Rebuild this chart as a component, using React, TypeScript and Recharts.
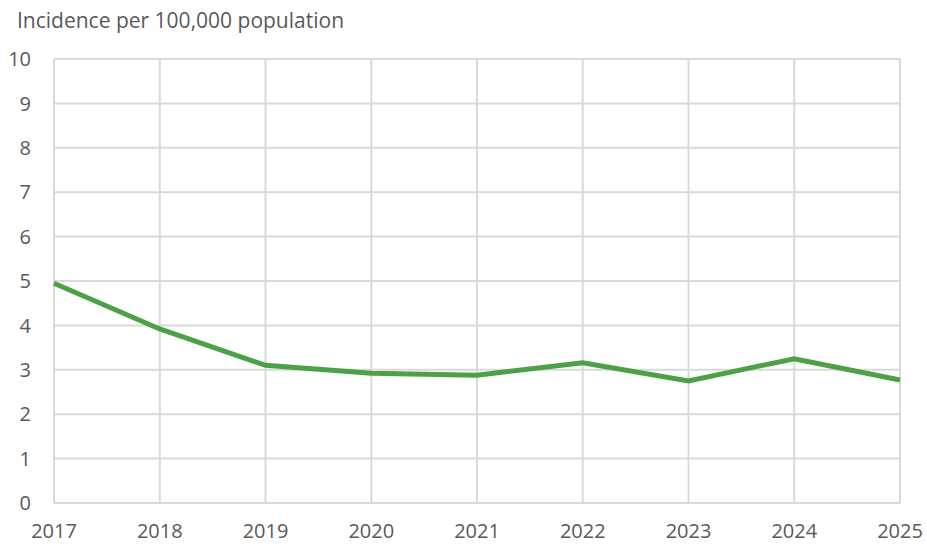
import * as React from "react";
import {
  LineChart,
  Line,
  XAxis,
  YAxis,
  CartesianGrid,
} from "recharts";

// values
const years = ["2017", "2018", "2019", "2020", "2021", "2022", "2023", "2024", "2025"];
const incidence = [4.95, 3.92, 3.1, 2.92, 2.88, 3.16, 2.75, 3.25, 2.77];
const yTicks = [0, 1, 2, 3, 4, 5, 6, 7, 8, 9, 10];

const FONT = "'Open Sans', 'Noto Sans', sans-serif";
const TEXT = "#595959";

export default function App() {
  const data = React.useMemo(
    () => years.map((year, i) => ({ year, value: incidence[i] })),
    []
  );

  return (
    <div
      style={{
        position: "absolute",
        left: 0,
        top: 0,
        width: 927,
        height: 544,
        background: "#fff",
        fontFamily: FONT,
      }}
    >
      <div
        style={{
          position: "absolute",
          left: 17,
          top: 6,
          fontSize: 21,
          color: TEXT,
          lineHeight: "28px",
          whiteSpace: "nowrap",
        }}
      >
        Incidence per 100,000 population
      </div>
      <LineChart
        width={927}
        height={544}
        data={data}
        margin={{ top: 59, right: 27, left: 0, bottom: 0 }}
      >
        <CartesianGrid stroke="#d9d9d9" strokeWidth={2} />
        <XAxis
          dataKey="year"
          axisLine={false}
          tickLine={false}
          tickSize={0}
          tickMargin={21}
          height={41}
          interval={0}
          tick={{ fill: TEXT, fontSize: 20, fontFamily: FONT }}
        />
        <YAxis
          domain={[0, 10]}
          ticks={yTicks}
          axisLine={false}
          tickLine={false}
          tickSize={0}
          tickMargin={23}
          width={54}
          interval={0}
          tick={{ fill: TEXT, fontSize: 20, fontFamily: FONT }}
        />
        <Line
          type="linear"
          dataKey="value"
          stroke="#4ca147"
          strokeWidth={5}
          dot={false}
          isAnimationActive={false}
        />
      </LineChart>
    </div>
  );
}
